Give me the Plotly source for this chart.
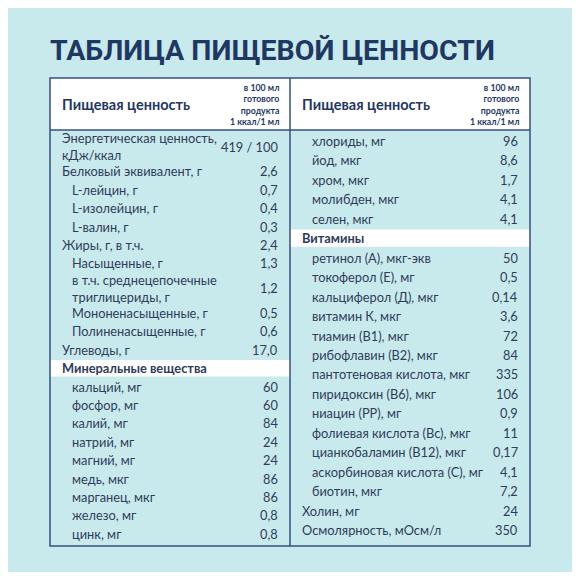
import plotly.graph_objects as go

left_labels = ["Энергетическая ценность,<br>кДж/ккал", "Белковый эквивалент, г", "L-лейцин, г", "L-изолейцин, г", "L-валин, г",
               "Жиры, г, в т.ч.", "Насыщенные, г", "в т.ч. среднецепочечные<br>триглицериды, г", "Мононенасыщенные, г",
               "Полиненасыщенные, г", "Углеводы, г", "Минеральные вещества", "кальций, мг", "фосфор, мг", "калий, мг",
               "натрий, мг", "магний, мг", "медь, мкг", "марганец, мкг", "железо, мг", "цинк, мг"]
left_values = ["419 / 100", "2,6", "0,7", "0,4", "0,3", "2,4", "1,3", "1,2", "0,5", "0,6", "17,0", "", "60", "60", "84",
               "24", "24", "86", "86", "0,8", "0,8"]
left_indent = [0, 0, 1, 1, 1, 0, 1, 1, 1, 1, 0, 0, 1, 1, 1, 1, 1, 1, 1, 1, 1]
left_section = [0]*11 + [1] + [0]*9

right_labels = ["хлориды, мг", "йод, мкг", "хром, мкг", "молибден, мкг", "селен, мкг", "Витамины", "ретинол (А), мкг-экв",
                "токоферол (Е), мг", "кальциферол (Д), мкг", "витамин К, мкг", "тиамин (В1), мкг", "рибофлавин (В2), мкг",
                "пантотеновая кислота, мкг", "пиридоксин (В6), мкг", "ниацин (РР), мг", "фолиевая кислота (Вс), мкг",
                "цианкобаламин (В12), мкг", "аскорбиновая кислота (С), мг", "биотин, мкг", "Холин, мг", "Осмолярность, мОсм/л"]
right_values = ["96", "8,6", "1,7", "4,1", "4,1", "", "50", "0,5", "0,14", "3,6", "72", "84", "335", "106", "0,9", "11",
                "0,17", "4,1", "7,2", "24", "350"]
right_indent = [1, 1, 1, 1, 1, 0] + [1]*13 + [0, 0]
right_section = [0]*5 + [1] + [0]*15

BG = "#c9eaed"
NAVY = "#1f3763"
TXT = "#2e3c5a"
LINE = "#35507f"
FONT = "Lato"
FS = 12.8

fig = go.Figure()
shapes = []
ann = []

def column(labels, values, indent, section, x0, x1, y0, y1):
    units = [1.7 if "<br>" in l else 1.0 for l in labels]
    h = (y1 - y0) / sum(units)
    y = y0
    for lab, val, ind, sec, u in zip(labels, values, indent, section, units):
        yc = y + u*h/2
        if sec:
            shapes.append(dict(type="rect", x0=x0, x1=x1, y0=y+1, y1=y+u*h-1, fillcolor="white", line_width=0, layer="below"))
        ann.append(dict(x=x0+10+(10 if ind else 0), y=yc, text=("<b>%s</b>" % lab) if sec else lab,
                        xanchor="left", yanchor="middle", showarrow=False, align="left",
                        font=dict(size=FS, color=TXT, family=FONT)))
        if val:
            ann.append(dict(x=x1-10, y=yc, text=val, xanchor="right", yanchor="middle", showarrow=False,
                            font=dict(size=FS, color=TXT, family=FONT)))
        y += u*h

# header
shapes.append(dict(type="rect", x0=50, x1=530, y0=78, y1=130, fillcolor="white", line_width=0, layer="below"))
for xl, xr in [(50, 290), (290, 530)]:
    ann.append(dict(x=xl+10, y=104, text="<b>Пищевая ценность</b>", xanchor="left", yanchor="middle", showarrow=False,
                    font=dict(size=14.5, color=NAVY, family=FONT)))
    ann.append(dict(x=xr-9, y=104, text="<b>в 100 мл<br>готового<br>продукта<br>1 ккал/1 мл</b>", xanchor="right",
                    yanchor="middle", showarrow=False, align="right", font=dict(size=8.8, color=NAVY, family=FONT)))

column(left_labels, left_values, left_indent, left_section, 50, 290, 131, 543)
column(right_labels, right_values, right_indent, right_section, 290, 530, 131, 540)

shapes.append(dict(type="rect", x0=50, x1=530, y0=78, y1=546, line=dict(color=LINE, width=1.5)))
shapes.append(dict(type="line", x0=50, x1=530, y0=130, y1=130, line=dict(color=LINE, width=1.5)))
shapes.append(dict(type="line", x0=290, x1=290, y0=78, y1=546, line=dict(color=LINE, width=1.5)))

ann.append(dict(x=48, y=50, text="<b>ТАБЛИЦА ПИЩЕВОЙ ЦЕННОСТИ</b>", xanchor="left", yanchor="middle", showarrow=False,
                font=dict(size=28.5, color=NAVY, family="Roboto")))

fig.update_layout(width=564, height=564, margin=dict(l=0, r=0, t=0, b=0), paper_bgcolor=BG, plot_bgcolor=BG,
                  xaxis=dict(range=[8, 572], visible=False, fixedrange=True),
                  yaxis=dict(range=[572, 8], visible=False, fixedrange=True),
                  shapes=shapes, annotations=ann, showlegend=False)
fig.write_html("out.html", config={"displayModeBar": False})
